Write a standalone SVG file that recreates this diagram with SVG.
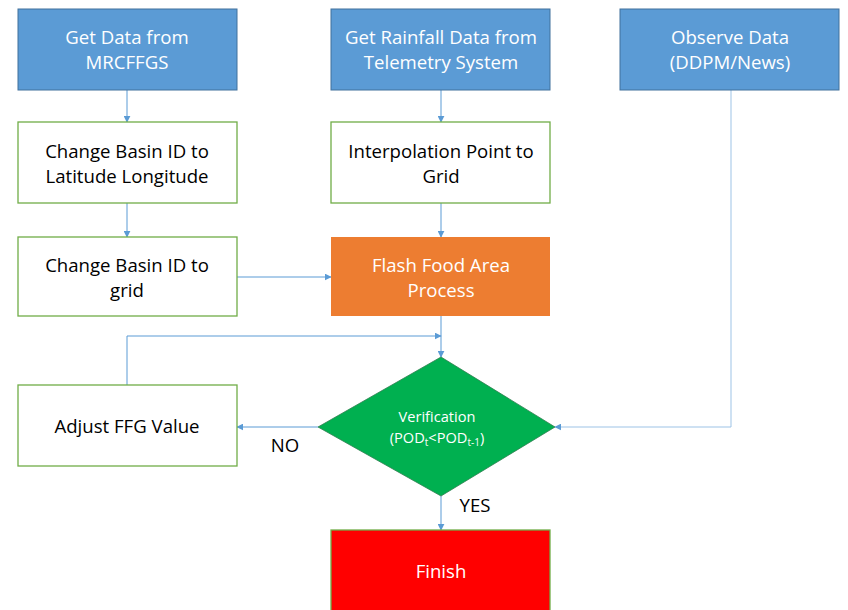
<svg xmlns="http://www.w3.org/2000/svg" width="848" height="610" viewBox="0 0 848 610">
  <style>
    text { font-family: "Open Sans", "Liberation Sans", sans-serif; font-size: 18.6px; text-anchor: middle; }
    .src rect { fill: #5B9BD5; stroke: #41719C; stroke-width: 1; }
    .step rect { fill: #FFFFFF; stroke: #70AD47; stroke-width: 1.3; }
    .light { fill: #FFFFFF; }
    .dark { fill: #000000; }
    .small { font-size: 14.6px; }
    .sub { font-size: 10px; }
    .conn { fill: none; stroke: #5B9BD5; stroke-width: 1; marker-end: url(#arr); }
  </style>
  <defs>
    <marker id="arr" viewBox="0 0 10 10" refX="9" refY="5" markerWidth="7" markerHeight="7" markerUnits="userSpaceOnUse" orient="auto">
      <path d="M0,0 L10,5 L0,10 z" fill="#5B9BD5"/>
    </marker>
  </defs>

  <!-- connectors -->
  <g id="connectors">
    <line class="conn" x1="127" y1="90" x2="127" y2="122"/>
    <line class="conn" x1="441" y1="90" x2="441" y2="122"/>
    <line class="conn" x1="127" y1="203" x2="127" y2="237"/>
    <line class="conn" x1="441" y1="203" x2="441" y2="237"/>
    <line class="conn" x1="237" y1="277" x2="331" y2="277"/>
    <line class="conn" x1="441" y1="316" x2="441" y2="357"/>
    <polyline class="conn" points="127,385 127,336 441,336"/>
    <line class="conn" x1="318" y1="427" x2="237" y2="427"/>
    <polyline class="conn" points="731,90 731,427 555,427" style="stroke:#9DC3E6"/>
    <line class="conn" x1="441" y1="496" x2="441" y2="530"/>
    <text class="dark" x="285" y="452">NO</text>
    <text class="dark" x="475" y="512">YES</text>
  </g>

  <g id="mrcffgs" class="src">
    <rect x="18" y="9" width="219" height="81"/>
    <text class="light" x="127" y="44">Get Data from</text>
    <text class="light" x="127" y="69">MRCFFGS</text>
  </g>
  <g id="telemetry" class="src">
    <rect x="331" y="9" width="219" height="81"/>
    <text class="light" x="441" y="44">Get Rainfall Data from</text>
    <text class="light" x="441" y="69">Telemetry System</text>
  </g>
  <g id="observe" class="src">
    <rect x="620" y="9" width="219" height="81"/>
    <text class="light" x="730" y="44">Observe Data</text>
    <text class="light" x="730" y="69">(DDPM/News)</text>
  </g>

  <g id="latlon" class="step">
    <rect x="18" y="122" width="219" height="81"/>
    <text class="dark" x="127" y="158">Change Basin ID to</text>
    <text class="dark" x="127" y="183">Latitude Longitude</text>
  </g>
  <g id="interp" class="step">
    <rect x="331" y="122" width="219" height="81"/>
    <text class="dark" x="441" y="158">Interpolation Point to</text>
    <text class="dark" x="441" y="183">Grid</text>
  </g>
  <g id="togrid" class="step">
    <rect x="18" y="237" width="219" height="79"/>
    <text class="dark" x="127" y="272">Change Basin ID to</text>
    <text class="dark" x="127" y="297">grid</text>
  </g>
  <g id="process">
    <rect x="331" y="237" width="219" height="79" fill="#ED7D31"/>
    <text class="light" x="441" y="272">Flash Food Area</text>
    <text class="light" x="441" y="297">Process</text>
  </g>
  <g id="adjust" class="step">
    <rect x="18" y="385" width="219" height="81"/>
    <text class="dark" x="127" y="433">Adjust FFG Value</text>
  </g>
  <g id="verify">
    <polygon points="441,357 555,427 441,496 318,427" fill="#00B050" stroke="#2E7D4F" stroke-width="0.8"/>
    <text class="light small" x="437" y="422">Verification</text>
    <text class="light small" x="437" y="443">(POD<tspan class="sub" dy="3">t</tspan><tspan dy="-3">&lt;POD</tspan><tspan class="sub" dy="3">t-1</tspan><tspan dy="-3">)</tspan></text>
  </g>
  <g id="finish">
    <rect x="331" y="530" width="219" height="90" fill="#FF0000" stroke="#70AD47" stroke-width="1.3"/>
    <text class="light" x="441" y="578">Finish</text>
  </g>
</svg>
